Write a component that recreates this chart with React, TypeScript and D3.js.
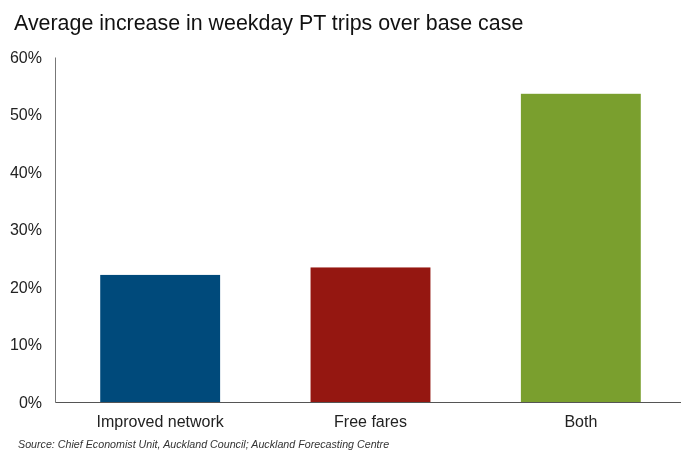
import React, { useEffect, useRef } from 'react';
import * as d3 from 'd3';

const categories = ['Improved network', 'Free fares', 'Both'];
const values = [22.1, 23.4, 53.6];
const barColors = ['#004a7b', '#951711', '#7a9f2e'];
const yTicks = [0, 10, 20, 30, 40, 50, 60];

const width = 681;
const height = 450;
const margin = { top: 57, right: -5, bottom: 48, left: 55 };

const App: React.FC = () => {
    const ref = useRef<SVGSVGElement>(null);

    useEffect(() => {
        const svg = d3.select(ref.current);
        svg.selectAll('*').remove();
        svg.attr('width', width).attr('height', height);

        const font = 'Liberation Sans, Arial, sans-serif';

        // band scale: bars ~120px wide on a ~210px step
        const x = d3
            .scaleBand()
            .domain(categories)
            .range([margin.left, width - margin.right])
            .paddingInner(0.43)
            .paddingOuter(0.215);

        const y = d3
            .scaleLinear()
            .domain([0, 60])
            .range([height - margin.bottom, margin.top]);

        svg.append('text')
            .attr('x', 14)
            .attr('y', 30)
            .style('font-family', font)
            .style('font-size', '21.4px')
            .attr('fill', '#111')
            .text('Average increase in weekday PT trips over base case');

        svg.selectAll('rect.bar')
            .data(categories)
            .enter()
            .append('rect')
            .attr('class', 'bar')
            .attr('x', (d) => x(d) ?? 0)
            .attr('y', (_, i) => y(values[i]))
            .attr('width', x.bandwidth())
            .attr('height', (_, i) => y(0) - y(values[i]))
            .attr('fill', (_, i) => barColors[i]);

        // y axis
        const yAxis = svg
            .append('g')
            .attr('transform', `translate(${margin.left},0)`)
            .call(
                d3
                    .axisLeft(y)
                    .tickValues(yTicks)
                    .tickSize(0)
                    .tickPadding(13)
                    .tickFormat((d) => `${d}%`)
            );
        yAxis.select('.domain').attr('stroke', '#777');
        yAxis
            .selectAll('text')
            .style('font-family', font)
            .style('font-size', '16px')
            .attr('fill', '#222');

        // x axis
        const xAxis = svg
            .append('g')
            .attr('transform', `translate(0,${y(0)})`)
            .call(d3.axisBottom(x).tickSize(0).tickPadding(14));
        xAxis.select('.domain').attr('stroke', '#555');
        xAxis
            .selectAll('text')
            .style('font-family', font)
            .style('font-size', '16px')
            .attr('fill', '#222');

        svg.append('text')
            .attr('x', 18)
            .attr('y', 448)
            .style('font-family', font)
            .style('font-size', '10.7px')
            .style('font-style', 'italic')
            .attr('fill', '#333')
            .text('Source: Chief Economist Unit, Auckland Council; Auckland Forecasting Centre');
    }, []);

    return (
        <svg
            ref={ref}
            style={{ display: 'block', position: 'fixed', top: 0, left: 0 }}
        ></svg>
    );
};

export default App;
